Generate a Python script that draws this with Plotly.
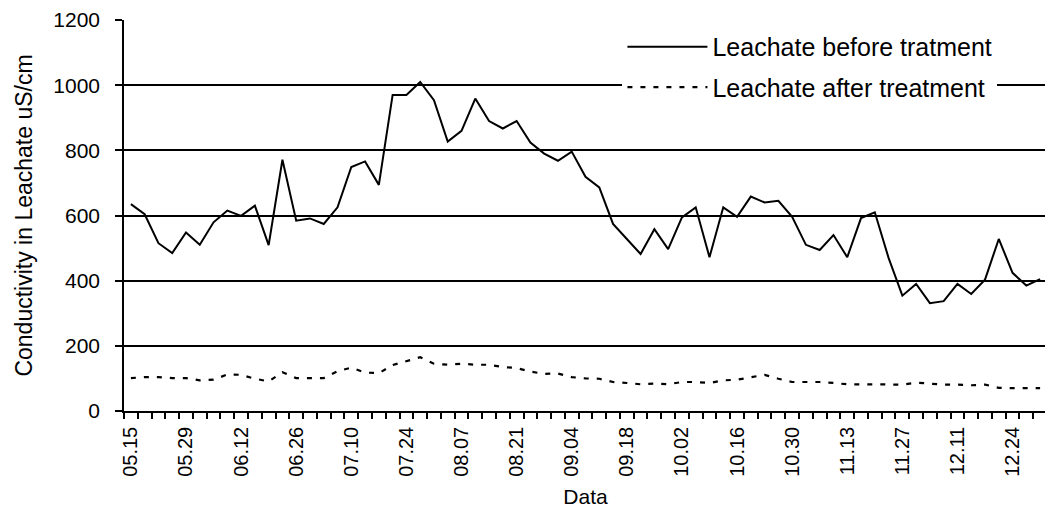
import plotly.graph_objects as go

# conductivity readings, twice a week from 05.15
before = [635, 604, 515, 485, 548, 510, 579, 615, 599, 630,
          509, 771, 584, 591, 574, 625, 749, 766, 694, 970,
          970, 1010, 954, 827, 860, 959, 890, 867, 890, 824,
          790, 768, 796, 719, 686, 574, 528, 482, 558, 497,
          594, 625, 472, 625, 596, 658, 640, 645, 596, 510,
          494, 540, 472, 592, 610, 470, 354, 390, 331, 337,
          390, 359, 403, 528, 424, 385, 405]
after = [101, 104, 104, 101, 101, 94, 96, 112, 111, 99,
         91, 119, 101, 101, 101, 122, 133, 118, 116, 141,
         153, 165, 145, 142, 145, 142, 142, 135, 132, 121,
         114, 115, 104, 100, 99, 89, 86, 82, 84, 82,
         89, 89, 86, 94, 96, 104, 111, 99, 89, 89,
         89, 86, 82, 82, 82, 82, 81, 87, 84, 81,
         81, 79, 81, 71, 70, 70, 70]
tick_labels = ["05.15", "05.29", "06.12", "06.26", "07.10", "07.24", "08.07",
               "08.21", "09.04", "09.18", "10.02", "10.16", "10.30", "11.13",
               "11.27", "12.11", "12.24"]
y_ticks = [0, 200, 400, 600, 800, 1000, 1200]

x = list(range(len(before)))
FONT = "Liberation Sans, Arial, sans-serif"

fig = go.Figure()
fig.add_trace(go.Scatter(
    x=x, y=before, mode="lines", name="Leachate before tratment",
    line=dict(color="black", width=2), legendgroup="a"
))
fig.add_trace(go.Scatter(
    x=x, y=after, mode="lines", name="Leachate after treatment",
    line=dict(color="black", width=2.2, dash="5px,8px"), legendgroup="b"
))

# page body has an 8px margin, so the figure is a bit smaller than the window
fig.update_layout(
    width=1045, height=502,
    margin=dict(l=116, r=6, t=12, b=99),
    plot_bgcolor="white", paper_bgcolor="white",
    font=dict(family=FONT, color="black", size=20),
    legend=dict(
        x=0.54, xanchor="left", y=0.99, yanchor="top",
        bgcolor="white", borderwidth=0, itemwidth=80,
        tracegroupgap=5, font=dict(size=25)
    ),
    xaxis=dict(
        range=[-0.5, len(x) - 0.5], automargin=False,
        tickvals=x[::4], ticktext=tick_labels, tickangle=-90,
        ticks="", showgrid=False, zeroline=False,
        showline=True, linecolor="black", linewidth=1.5,
        tickfont=dict(size=20), ticklabelstandoff=6,
        minor=dict(tickvals=[i - 0.5 for i in range(len(x) + 1)],
                   ticks="outside", ticklen=6, tickcolor="black", tickwidth=1.5),
        title=dict(text="Data", font=dict(size=21), standoff=13),
    ),
    yaxis=dict(
        range=[0, 1200], tickvals=y_ticks, automargin=False,
        ticks="outside", ticklen=7, tickcolor="black", tickwidth=1.5,
        showgrid=False, zeroline=False,
        showline=True, linecolor="black", linewidth=1.5,
        tickfont=dict(size=21), ticklabelstandoff=11,
        minor=dict(tickvals=y_ticks[1:-1], ticks="", showgrid=True,
                   gridcolor="black", gridwidth=1.5),
        title=dict(text="Conductivity in Leachate uS/cm", font=dict(size=23), standoff=14),
    ),
)

fig.write_html("out.html")
